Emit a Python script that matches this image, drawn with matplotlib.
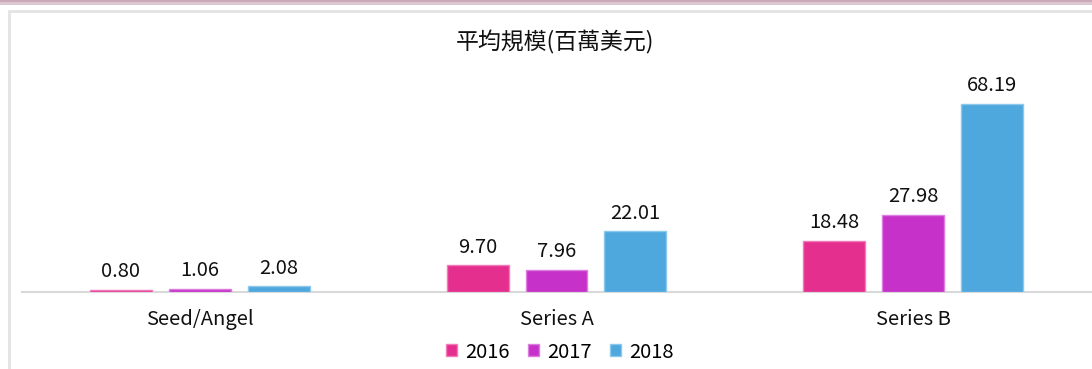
import numpy as np
import matplotlib.pyplot as plt
from matplotlib.patches import Rectangle

plt.rcParams['font.family'] = ['Noto Sans CJK TC', 'DejaVu Sans']

categories = ['Seed/Angel', 'Series A', 'Series B']
years = ['2016', '2017', '2018']
avg_2016 = [0.80, 9.70, 18.48]
avg_2017 = [1.06, 7.96, 27.98]
avg_2018 = [2.08, 22.01, 68.19]
colors = ['#e52f8f', '#c531c9', '#4fa8dd']
edges = ['#f07bb8', '#dc7ee0', '#8cc7ec']

W, H = 1092, 369
fig = plt.figure(figsize=(W / 100, H / 100), dpi=100)

# page background: shadow strip on top and the panel frame
fig.patches.append(Rectangle((0, 1 - 5 / H), 1, 5 / H, transform=fig.transFigure,
                             facecolor='#dcc6cf', edgecolor='none', zorder=-2))
fig.patches.append(Rectangle((0, 1 - 2 / H), 1, 2 / H, transform=fig.transFigure,
                             facecolor='#c9a9b8', edgecolor='none', zorder=-2))
fig.patches.append(Rectangle((9 / W, -0.1), 1.2, 1.1 - 11 / H, transform=fig.transFigure,
                             facecolor='white', edgecolor='#e3e3e3', linewidth=2, zorder=-1))

ax = fig.add_axes([21.5 / W, 1 - 292 / H, 1070 / W, (292 - 70) / H])
ax.set_facecolor('none')
ax.set_zorder(2)

x = np.arange(len(categories))
step = 79 / 357
width = 62 / 357
for i, (vals, c, ec) in enumerate(zip([avg_2016, avg_2017, avg_2018], colors, edges)):
    bars = ax.bar(x + (i - 1) * step, vals, width, color=c, edgecolor=ec, linewidth=1,
                  label=years[i], zorder=3)
    for b, v in zip(bars, vals):
        ax.annotate(f'{v:.2f}', (b.get_x() + b.get_width() / 2, v), xytext=(0, 5.5),
                    textcoords='offset points', ha='center', va='bottom', fontsize=14.5,
                    color='#111111')

ax.set_xlim(-0.5, 2.5)
ax.set_ylim(0, (292 - 70) / 2.757)
ax.set_xticks(x)
ax.set_xticklabels(categories, fontsize=14.5, color='#111111')
ax.tick_params(axis='x', length=0, pad=12.5)
ax.set_yticks([])
for s in ['top', 'right', 'left']:
    ax.spines[s].set_visible(False)
ax.spines['bottom'].set_color('#d9d9d9')
ax.spines['bottom'].set_linewidth(1.5)

fig.text(555 / W, 1 - 42 / H, '平均規模(百萬美元)', ha='center', va='center', fontsize=16.5,
         color='#111111')

fig.legend(loc='center', bbox_to_anchor=(560 / W, 1 - 352 / H), ncol=3, frameon=False,
           fontsize=14.5, handlelength=0.55, handleheight=0.55, handletextpad=0.4,
           columnspacing=0.9)

fig.savefig('out.png', dpi=100)
